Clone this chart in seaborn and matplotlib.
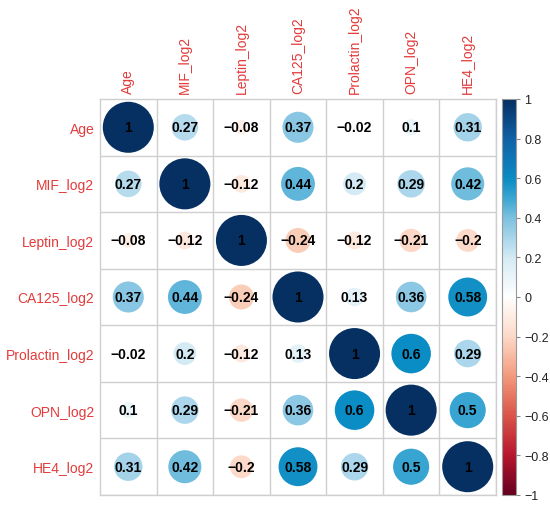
import numpy as np
import pandas as pd
import matplotlib
matplotlib.use("Agg")
import matplotlib.pyplot as plt
from matplotlib.colors import LinearSegmentedColormap, Normalize
from matplotlib.cm import ScalarMappable
import seaborn as sns

labels = ["Age", "MIF_log2", "Leptin_log2", "CA125_log2", "Prolactin_log2", "OPN_log2", "HE4_log2"]
row_age = [1, 0.27, -0.08, 0.37, -0.02, 0.1, 0.31]
row_mif = [0.27, 1, -0.12, 0.44, 0.2, 0.29, 0.42]
row_leptin = [-0.08, -0.12, 1, -0.24, -0.12, -0.21, -0.2]
row_ca125 = [0.37, 0.44, -0.24, 1, 0.13, 0.36, 0.58]
row_prolactin = [-0.02, 0.2, -0.12, 0.13, 1, 0.6, 0.29]
row_opn = [0.1, 0.29, -0.21, 0.36, 0.6, 1, 0.5]
row_he4 = [0.31, 0.42, -0.2, 0.58, 0.29, 0.5, 1]
rows = [row_age, row_mif, row_leptin, row_ca125, row_prolactin, row_opn, row_he4]
cbar_ticks = [-1, -0.8, -0.6, -0.4, -0.2, 0, 0.2, 0.4, 0.6, 0.8, 1]

sns.set_style("white")
plt.rcParams['font.family'] = ['Liberation Sans', 'DejaVu Sans']

stops = [
    (-1.0, "#67001F"), (-0.8, "#B8162E"), (-0.6, "#DA5548"), (-0.4, "#F49A7C"),
    (-0.2, "#FCD9C8"), (0.0, "#FFFFFF"), (0.2, "#D4EAF4"), (0.3, "#A8D5EA"),
    (0.4, "#7CC1E0"), (0.5, "#3AA6D2"), (0.6, "#0A8CC4"), (0.8, "#1062A8"),
    (1.0, "#053061"),
]
cmap = LinearSegmentedColormap.from_list(
    "corrRdBu", [((v + 1) / 2, c) for v, c in stops], N=256)

n = len(labels)
recs = []
for i, r in enumerate(rows):
    for j, v in enumerate(r):
        recs.append({"row": i, "col": j, "r": v, "absr": abs(v)})
df = pd.DataFrame(recs)

fig = plt.figure(figsize=(5.5, 5.06), dpi=100)
ax = fig.add_axes([100/550, 1-496/506, 396/550, 396/506])
cax = fig.add_axes([502/550, 1-496/506, 14/550, 396/506])

ax.set_xlim(-0.5, n-0.5)
ax.set_ylim(n-0.5, -0.5)
ax.set_xticks(np.arange(n)+0.5, minor=True)
ax.set_yticks(np.arange(n)+0.5, minor=True)
ax.grid(which="minor", color="#CFCFCF", linewidth=1.0)
ax.grid(which="major", visible=False)
ax.set_axisbelow(True)

sns.scatterplot(data=df, x="col", y="row", hue="r", size="absr",
                palette=cmap, hue_norm=(-1, 1), sizes=(0, 1350), size_norm=(0, 1),
                linewidth=0, legend=False, ax=ax, zorder=2)

for _, rec in df.iterrows():
    txt = f"{rec['r']:g}".replace("-", "\u2212")
    ax.text(rec["col"], rec["row"], txt, ha="center", va="center",
            fontsize=10, fontweight="bold", color="black", zorder=3)

ax.set_xticks(range(n))
ax.set_yticks(range(n))
ax.set_xticklabels(labels, rotation=90, color="#E33B3B", fontsize=10)
ax.set_yticklabels(labels, color="#E33B3B", fontsize=10)
ax.xaxis.tick_top()
ax.tick_params(axis="both", which="both", length=0, pad=4)
ax.set_xlabel("")
ax.set_ylabel("")
for s in ax.spines.values():
    s.set_color("#CFCFCF")
    s.set_linewidth(1.0)

sm = ScalarMappable(norm=Normalize(-1, 1), cmap=cmap)
cb = fig.colorbar(sm, cax=cax, ticks=cbar_ticks)
cb.ax.set_yticklabels([f"{t:g}".replace("-", "\u2212") for t in cbar_ticks], fontsize=9, color="#222222")
cb.ax.tick_params(length=3, width=0.8, color="#888888", pad=3)
cb.outline.set_edgecolor("#999999")
cb.outline.set_linewidth(0.8)

fig.savefig("out.png", dpi=100)
